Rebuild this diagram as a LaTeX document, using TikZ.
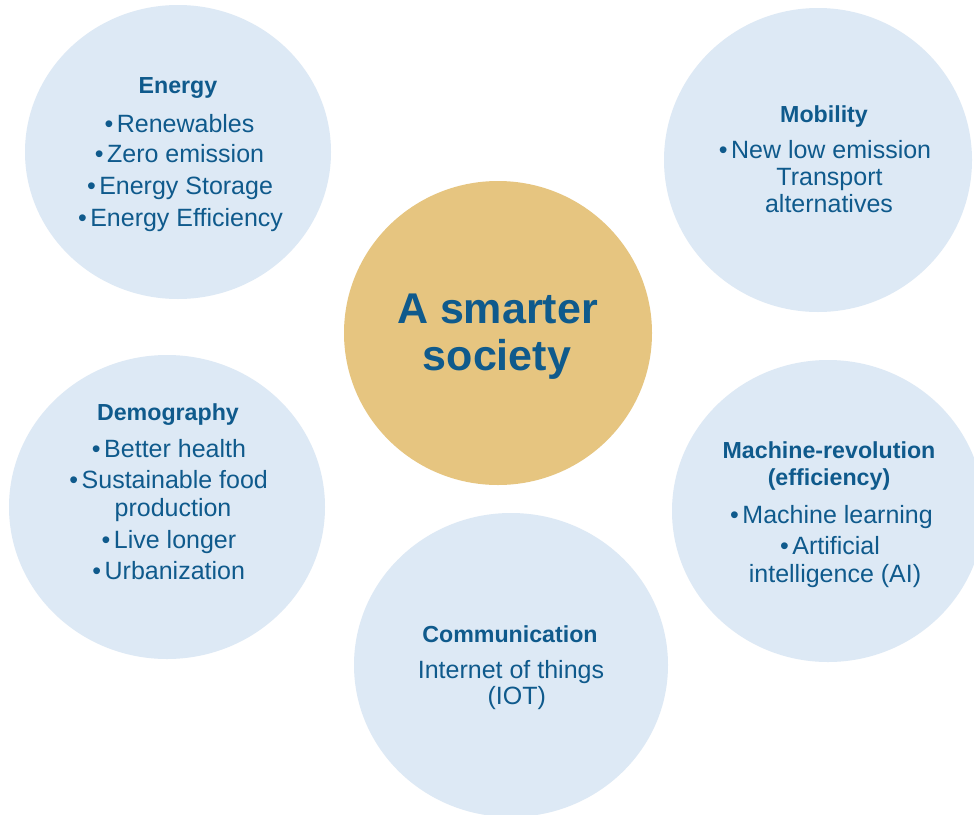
\documentclass[tikz,border=0pt]{standalone}
\usepackage{fontspec}
\setmainfont{Liberation Sans}
\usetikzlibrary{shapes.geometric}
\definecolor{bubblefill}{HTML}{DDE9F5}
\definecolor{corefill}{HTML}{E6C580}
\definecolor{ink}{HTML}{0F5A8C}
\newcommand{\bul}{\textbullet\kern3.5pt}
\tikzset{
  bubble/.style={ellipse, fill=bubblefill, draw=none, inner sep=0pt},
  corebubble/.style={ellipse, fill=corefill, draw=none, inner sep=0pt},
  head/.style={anchor=base, inner sep=0pt, text=ink, font=\fontsize{23.2}{27}\selectfont\bfseries},
  item/.style={anchor=base, inner sep=0pt, text=ink, font=\fontsize{25}{28}\selectfont},
  title/.style={anchor=base, inner sep=0pt, text=ink, font=\fontsize{43}{47}\selectfont\bfseries},
}
\begin{document}
\begin{tikzpicture}[x=1pt, y=-1pt]
  \clip (0,0) rectangle (974,814);
  \fill[white] (0,0) rectangle (974,814);

  % circles
  \node[bubble, minimum width=306pt, minimum height=294pt] (energy) at (178,152) {};
  \node[bubble, minimum width=308pt, minimum height=304pt] (mobility) at (818,160) {};
  \node[corebubble, minimum width=308pt, minimum height=304pt] (core) at (498,333) {};
  \node[bubble, minimum width=316pt, minimum height=304pt] (demography) at (167,507) {};
  \node[bubble, minimum width=312pt, minimum height=302pt] (machine) at (828,511) {};
  \node[bubble, minimum width=314pt, minimum height=304pt] (communication) at (511,665) {};

  % centre
  \node[title] (core1) at (497.5,323) {A smarter};
  \node[title] (core2) at (497,370) {society};

  % energy
  \node[head] (energyh) at (178,93) {Energy};
  \node[item] (energy1) at (179.5,132) {\bul Renewables};
  \node[item] (energy2) at (179.5,162) {\bul Zero emission};
  \node[item] (energy3) at (180,194) {\bul Energy Storage};
  \node[item] (energy4) at (180.5,226) {\bul Energy Efficiency};

  % mobility
  \node[head] (mobilityh) at (824,122) {Mobility};
  \node[item] (mobility1) at (825,158) {\bul New low emission};
  \node[item] (mobility2) at (829.5,185) {Transport};
  \node[item] (mobility3) at (829,212) {alternatives};

  % demography
  \node[head] (demographyh) at (168,420) {Demography};
  \node[item] (demography1) at (169,457) {\bul Better health};
  \node[item] (demography2) at (168.7,488) {\bul Sustainable food};
  \node[item] (demography3) at (173,516) {production};
  \node[item] (demography4) at (169,548) {\bul Live longer};
  \node[item] (demography5) at (168.7,579) {\bul Urbanization};

  % machine revolution
  \node[head] (machineh1) at (829,458) {Machine-revolution};
  \node[head] (machineh2) at (829,485) {(efficiency)};
  \node[item] (machine1) at (831.5,523) {\bul Machine learning};
  \node[item] (machine2) at (830,554) {\bul Artificial};
  \node[item] (machine3) at (835,582) {intelligence (AI)};

  % communication
  \node[head] (communicationh) at (510,642) {Communication};
  \node[item] (communication1) at (511,678) {Internet of things};
  \node[item] (communication2) at (516.7,704) {(IOT)};
\end{tikzpicture}
\end{document}
